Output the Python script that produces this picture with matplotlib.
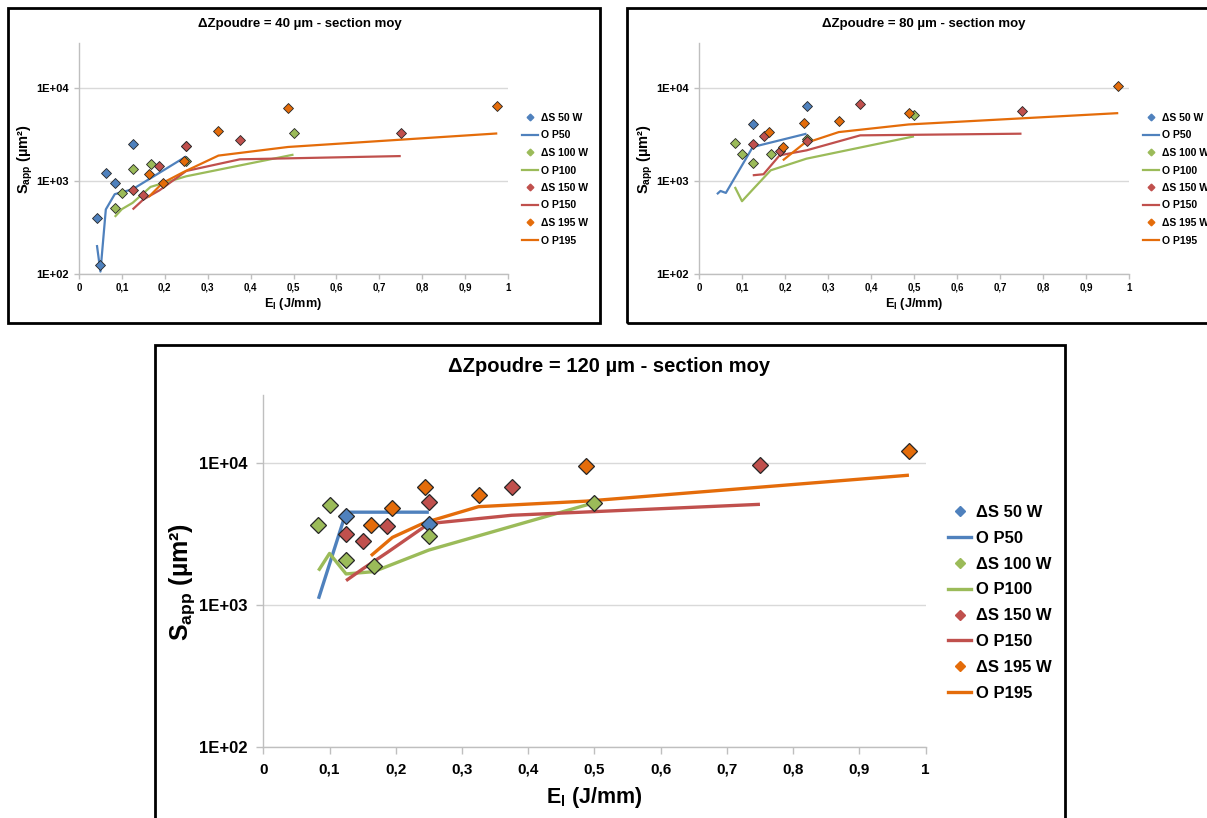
import matplotlib
matplotlib.use("Agg")
import matplotlib.pyplot as plt
from matplotlib.patches import Rectangle
from matplotlib.lines import Line2D
from matplotlib.ticker import FixedLocator, FixedFormatter, NullLocator

plt.rcParams['font.family'] = ['Liberation Sans', 'DejaVu Sans']
plt.rcParams['font.weight'] = 'bold'
plt.rcParams['mathtext.fontset'] = 'custom'
plt.rcParams['mathtext.rm'] = 'Liberation Sans:bold'
plt.rcParams['mathtext.it'] = 'Liberation Sans:bold'
plt.rcParams['mathtext.bf'] = 'Liberation Sans:bold'
plt.rcParams['mathtext.default'] = 'rm'

# ---------------- data ----------------
x50 = [0.0417, 0.05, 0.0625, 0.0833, 0.125, 0.25]
x100 = [0.0833, 0.1, 0.125, 0.1667, 0.25, 0.5]
x150 = [0.125, 0.15, 0.1875, 0.25, 0.375, 0.75]
x195 = [0.1625, 0.195, 0.2438, 0.325, 0.4875, 0.975]

# dZ = 40 um
ds50_40 = [400, 125, 1220, 960, 2480, 2400]
op50_40 = [206, 107, 496, 723, 817, 1840]
ds100_40 = [508, 753, 1337, 1512, 1640, 3300]
op100_40 = [413, 500, 584, 865, 1125, 1920]
ds150_40 = [811, 705, 1452, 2370, 2780, 3240]
op150_40 = [496, 634, 795, 1282, 1710, 1853]
ds195_40 = [1183, 955, 1640, 3434, 6110, 6350]
op195_40 = [676, 955, 1250, 1875, 2320, 3240]

# dZ = 80 um
x50_ds80 = [0.125, 0.25]
ds50_80 = [4045, 6350]
x50_op80 = [0.0417, 0.05, 0.0625, 0.125, 0.25]
op50_80 = [723, 783, 746, 2318, 3220]
ds100_80 = [2560, 1967, 1578, 1967, 2850, 5090]
op100_80 = [865, 608, 811, 1303, 1738, 3014]
ds150_80 = [2478, 3034, 2084, 2686, 6620, 5630]
op150_80 = [1153, 1183, 1888, 2134, 3090, 3220]
ds195_80 = [3350, 2318, 4180, 4390, 5400, 10500]
x195_op80 = [0.195, 0.2438, 0.325, 0.4875, 0.975]
op195_80 = [1667, 2520, 3350, 4045, 5350]

# dZ = 120 um
x50_ds120 = [0.125, 0.25]
ds50_120 = [4235, 3705]
x50_op120 = [0.0833, 0.125, 0.25]
op50_120 = [1107, 4500, 4500]
ds100_120 = [3640, 5060, 2085, 1892, 3070, 5250]
op100_120 = [1746, 2307, 1656, 1718, 2437, 5250]
ds150_120 = [3185, 2800, 3608, 5310, 6800, 9730]
op150_120 = [1486, 1795, 2349, 3740, 4280, 5110]
ds195_120 = [3660, 4840, 6800, 5970, 9580, 12200]
op195_120 = [2222, 2992, 3800, 4920, 5380, 8190]

titles = ["ΔZpoudre = 40 µm - section moy",
          "ΔZpoudre = 80 µm - section moy",
          "ΔZpoudre = 120 µm - section moy"]
ds_labels = ["ΔS 50 W", "ΔS 100 W", "ΔS 150 W", "ΔS 195 W"]
op_labels = ["O P50", "O P100", "O P150", "O P195"]
colors = ["#4f81bd", "#9bbb59", "#c0504d", "#e46c0a"]
xticks = [0, 0.1, 0.2, 0.3, 0.4, 0.5, 0.6, 0.7, 0.8, 0.9, 1.0]
xticklabels = ["0", "0,1", "0,2", "0,3", "0,4", "0,5", "0,6", "0,7", "0,8", "0,9", "1"]
yticks = [100, 1000, 10000]
yticklabels = ["1E+02", "1E+03", "1E+04"]

W, H = 1207, 818
fig = plt.figure(figsize=(W / 100, H / 100), dpi=100)


def fig_rect(x0, y0, x1, y1):
    return [x0 / W, 1 - y1 / H, (x1 - x0) / W, (y1 - y0) / H]


def frame(x0, y0, x1, y1):
    fig.patches.append(Rectangle((x0 / W, 1 - y1 / H), (x1 - x0) / W, (y1 - y0) / H,
                                 transform=fig.transFigure, fill=False,
                                 edgecolor='black', linewidth=2.0, zorder=0))


def panel(rect, title, title_xy, series, s):
    ax = fig.add_axes(fig_rect(*rect))
    ax.set_yscale('log')
    ax.set_xlim(0, 1)
    ax.set_ylim(100, 30000)
    ax.yaxis.set_major_locator(FixedLocator(yticks))
    ax.yaxis.set_major_formatter(FixedFormatter(yticklabels))
    ax.yaxis.set_minor_locator(NullLocator())
    ax.xaxis.set_major_locator(FixedLocator(xticks))
    ax.xaxis.set_major_formatter(FixedFormatter(xticklabels))
    ax.grid(axis='y', color='#d9d9d9', linewidth=1.0)
    ax.set_axisbelow(True)
    for sp in ['top', 'right']:
        ax.spines[sp].set_visible(False)
    for sp in ['left', 'bottom']:
        ax.spines[sp].set_color('#bfbfbf')
        ax.spines[sp].set_linewidth(1.0)
    ax.tick_params(axis='both', colors='#bfbfbf', labelcolor='black',
                   length=s['ticklen'], width=1.0)
    ax.tick_params(axis='x', pad=s['xpad'], labelsize=s['xtick'])
    ax.tick_params(axis='y', pad=s['ypad'], labelsize=s['ytick'])
    for lab in ax.get_xticklabels() + ax.get_yticklabels():
        lab.set_fontweight('bold')
    handles = []
    for (xd, yd, xl, yl), c, dl, ol in zip(series, colors, ds_labels, op_labels):
        ax.plot(xl, yl, color=c, lw=s['lw'], zorder=3, solid_capstyle='butt')
        ax.plot(xd, yd, linestyle='none', marker='D', markersize=s['ms'],
                markerfacecolor=c, markeredgecolor='#262626', markeredgewidth=s['mew'],
                zorder=4)
        handles.append(Line2D([], [], linestyle='none', marker='D', markersize=s['lms'],
                              markerfacecolor=c, markeredgecolor=c, label=dl))
        handles.append(Line2D([], [], color=c, lw=s['lw'], label=ol))
    ax.set_xlabel('E$_{\\mathrm{l}}$ (J/mm)', fontsize=s['xlabel'], fontweight='bold',
                  labelpad=s['xlp'])
    ax.set_ylabel('S$_{\\mathrm{app}}$ (µm²)', fontsize=s['ylabel'], fontweight='bold')
    ax.yaxis.set_label_coords(s['ylx'], s['yly'])
    fig.text(title_xy[0] / W, 1 - title_xy[1] / H, title, ha='center', va='center',
             fontsize=s['title'], fontweight='bold')
    fig.legend(handles=handles, loc='upper left',
               bbox_to_anchor=(s['legx'] / W, 1 - s['legy'] / H),
               bbox_transform=fig.transFigure, frameon=False,
               handlelength=s['hl'], handletextpad=s['htp'],
               labelspacing=s['ls'], borderpad=0, borderaxespad=0,
               prop={'weight': 'bold', 'size': s['leg']})
    return ax


small = dict(xtick=7, ytick=8, ticklen=3.6, xpad=2.5, ypad=4, lw=1.6, ms=5, mew=0.6,
             lms=3.4, xlabel=9.2, ylabel=10.5, xlp=2.5, ylx=-0.103, yly=0.50,
             title=9.5, leg=7.5, hl=1.5, htp=0.3, ls=0.72, legx=522, legy=113)
big = dict(xtick=11, ytick=12, ticklen=5, xpad=6, ypad=6.5, lw=2.4, ms=8, mew=0.9,
           lms=5.5, xlabel=15.5, ylabel=18, xlp=6, ylx=-0.100, yly=0.47,
           title=14.5, leg=12, hl=1.4, htp=0.3, ls=0.65, legx=948, legy=505)

frame(8, 8, 600, 323)
frame(627, 8, 1215, 323)
frame(155, 345, 1065, 830)

s40 = [(x50, ds50_40, x50, op50_40), (x100, ds100_40, x100, op100_40),
       (x150, ds150_40, x150, op150_40), (x195, ds195_40, x195, op195_40)]
panel((79, 43.3, 508, 274.3), titles[0], (300, 24), s40, small)

s80 = [(x50_ds80, ds50_80, x50_op80, op50_80), (x100, ds100_80, x100, op100_80),
       (x150, ds150_80, x150, op150_80), (x195, ds195_80, x195_op80, op195_80)]
s_r = dict(small)
s_r['legx'] = 1143
panel((699, 43.3, 1129, 274.3), titles[1], (924, 24), s80, s_r)

s120 = [(x50_ds120, ds50_120, x50_op120, op50_120), (x100, ds100_120, x100, op100_120),
        (x150, ds150_120, x150, op150_120), (x195, ds195_120, x195, op195_120)]
panel((263.3, 395, 925.5, 747.3), titles[2], (609, 367), s120, big)

fig.savefig('out.png', dpi=100)
